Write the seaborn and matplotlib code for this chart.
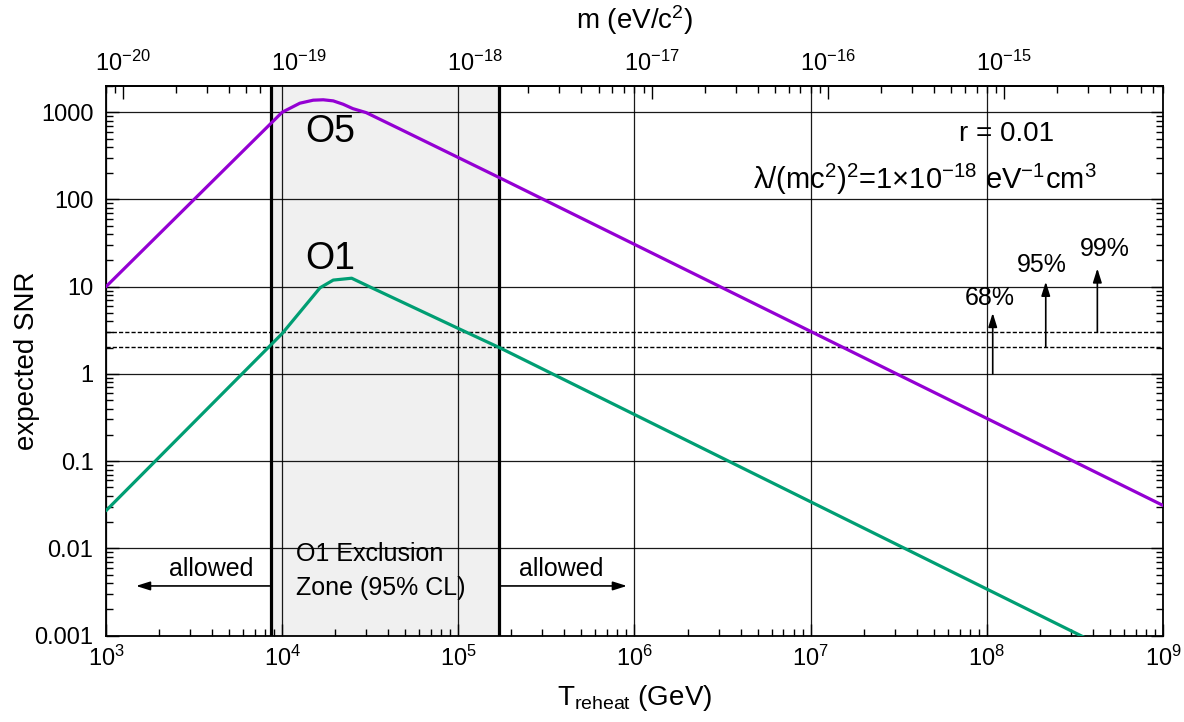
import numpy as np
import pandas as pd
import matplotlib
matplotlib.use("Agg")
import matplotlib.pyplot as plt
import seaborn as sns
from matplotlib.ticker import LogLocator, NullFormatter, FixedLocator

# ---------------- data ----------------
T_O5 = [1e3, 1e4, 1.26e4, 1.5e4, 1.71e4, 1.95e4, 2.22e4, 2.52e4, 3.0e4, 4.68e4, 1.69e5, 1e9]
SNR_O5 = [10, 1000, 1270, 1375, 1390, 1350, 1235, 1100, 990, 640, 180, 0.031]

T_O1 = [1e3, 1e4, 1.64e4, 1.95e4, 2.48e4, 3.16e4, 9.8e4, 1.72e5, 1e9]
SNR_O1 = [0.027, 2.9, 9.7, 11.9, 12.5, 9.9, 3.38, 1.99, 3.4e-4]

excl_zone = [8.6e3, 1.71e5]          # O1 exclusion zone (GeV)
thresholds = [2.05, 3.0]             # SNR thresholds for 95% and 99%
cl_labels = ["68%", "95%", "99%"]
cl_T = [1.08e8, 2.16e8, 4.24e8]
cl_base = [1.0, 2.05, 3.0]
cl_tip = [5.0, 11.4, 16.2]

ytick_vals = [1e-3, 1e-2, 1e-1, 1, 10, 100, 1000]
ytick_labels = ["0.001", "0.01", "0.1", "1", "10", "100", "1000"]
xtick_vals = [1e3, 1e4, 1e5, 1e6, 1e7, 1e8, 1e9]
mtick_vals = [1e-20, 1e-19, 1e-18, 1e-17, 1e-16, 1e-15]

M_PER_T = 8.0e-24   # m (eV/c^2) per GeV of T_reheat (top axis)

# ---------------- style ----------------
sns.set_style("ticks")
plt.rcParams["font.family"] = ["Liberation Sans", "DejaVu Sans"]
plt.rcParams["mathtext.fontset"] = "custom"
plt.rcParams["mathtext.rm"] = "Liberation Sans"
plt.rcParams["mathtext.it"] = "Liberation Sans:italic"
plt.rcParams["mathtext.bf"] = "Liberation Sans:bold"
plt.rcParams["axes.unicode_minus"] = True
for key in ["text.color", "axes.labelcolor", "xtick.color", "ytick.color",
            "xtick.labelcolor", "ytick.labelcolor", "axes.edgecolor"]:
    plt.rcParams[key] = "black"

PURPLE = "#9400D3"
GREEN = "#009E73"

fig, ax = plt.subplots(figsize=(11.84, 7.22), dpi=100)
fig.subplots_adjust(left=106 / 1184, right=1163 / 1184, bottom=1 - 635.5 / 722, top=1 - 86 / 722)

ax.set_xscale("log")
ax.set_yscale("log")
ax.set_xlim(1e3, 1e9)
ax.set_ylim(1e-3, 2000)

# exclusion zone
ax.axvspan(excl_zone[0], excl_zone[1], color="#f0f0f0", zorder=0.1, lw=0)
for xv in excl_zone:
    ax.axvline(xv, color="black", lw=2.3, zorder=2)

# grid
ax.set_axisbelow(True)
ax.grid(True, which="major", color="black", lw=0.9, alpha=0.9)

# threshold lines
for th in thresholds:
    ax.axhline(th, color="black", lw=1.0, ls=(0, (3, 1.5)), zorder=2)

# curves
df5 = pd.DataFrame({"T": T_O5, "SNR": SNR_O5})
df1 = pd.DataFrame({"T": T_O1, "SNR": SNR_O1})
sns.lineplot(data=df5, x="T", y="SNR", color=PURPLE, lw=2.3, ax=ax, sort=False, estimator=None, zorder=3)
sns.lineplot(data=df1, x="T", y="SNR", color=GREEN, lw=2.3, ax=ax, sort=False, estimator=None, zorder=3)

# ticks
ax.set_xticks(xtick_vals)
ax.xaxis.set_minor_locator(LogLocator(base=10, subs=np.arange(2, 10), numticks=50))
ax.xaxis.set_minor_formatter(NullFormatter())
ax.set_yticks(ytick_vals)
ax.set_yticklabels(ytick_labels)
ax.yaxis.set_minor_locator(LogLocator(base=10, subs=np.arange(2, 10), numticks=50))
ax.yaxis.set_minor_formatter(NullFormatter())
ax.tick_params(which="both", direction="in", top=False, right=True, labelright=False,
               labelsize=17, width=1, color="black")
ax.tick_params(which="major", length=9)
ax.tick_params(which="minor", length=5)
ax.tick_params(axis="y", pad=9)
ax.tick_params(axis="x", pad=7)
for sp in ax.spines.values():
    sp.set_linewidth(1.3)
    sp.set_color("black")

ax.set_xlabel(r"T$_{\mathregular{reheat}}$ (GeV)", fontsize=20, labelpad=9)
ax.set_ylabel("expected SNR", fontsize=20)
ax.yaxis.set_label_coords(-0.062, 0.5)

# top axis: mass
sec = ax.secondary_xaxis("top", functions=(lambda t: t * M_PER_T, lambda m: m / M_PER_T))
sec.xaxis.set_major_locator(FixedLocator(mtick_vals))
sec.xaxis.set_minor_locator(LogLocator(base=10, subs=np.arange(2, 10), numticks=50))
sec.xaxis.set_minor_formatter(NullFormatter())
sec.tick_params(which="both", direction="in", labelsize=17, width=1, color="black", pad=7)
sec.tick_params(which="major", length=9)
sec.tick_params(which="minor", length=5)
sec.spines["top"].set_linewidth(1.3)
sec.set_xlabel(r"m (eV/c$^2$)", fontsize=20, labelpad=16)

# annotations
ax.text(1.35e4, 586, "O5", fontsize=27, ha="left", va="center", zorder=4)
ax.text(1.35e4, 20.6, "O1", fontsize=27, ha="left", va="center", zorder=4)
ax.text(1.3e8, 562, "r = 0.01", fontsize=20, ha="center", va="center")
ax.text(4.45e7, 168, r"λ/(mc$^2$)$^2$=1×10$^{-18}$ eV$^{-1}$cm$^3$", fontsize=21,
        ha="center", va="center")

for lab, xt, yb, yt in zip(cl_labels, cl_T, cl_base, cl_tip):
    ax.annotate("", xy=(xt, yt), xytext=(xt, yb),
                arrowprops=dict(arrowstyle="-|>,head_length=0.7,head_width=0.22",
                                color="black", lw=1.2, shrinkA=0, shrinkB=0,
                                mutation_scale=12))
ax.text(1.04e8, 7.4, cl_labels[0], fontsize=18, ha="center", va="center")
ax.text(2.05e8, 17.8, cl_labels[1], fontsize=18, ha="center", va="center")
ax.text(4.68e8, 26.9, cl_labels[2], fontsize=18, ha="center", va="center")

# allowed arrows
ax.text(3.98e3, 0.0058, "allowed", fontsize=18, ha="center", va="center")
ax.annotate("", xy=(1.48e3, 0.0037), xytext=(8.5e3, 0.0037),
            arrowprops=dict(arrowstyle="-|>,head_length=0.7,head_width=0.22",
                            color="black", lw=1.2, shrinkA=0, shrinkB=0, mutation_scale=12))
ax.text(3.82e5, 0.0058, "allowed", fontsize=18, ha="center", va="center")
ax.annotate("", xy=(9.06e5, 0.0037), xytext=(1.72e5, 0.0037),
            arrowprops=dict(arrowstyle="-|>,head_length=0.7,head_width=0.22",
                            color="black", lw=1.2, shrinkA=0, shrinkB=0, mutation_scale=12))
ax.text(1.2e4, 0.0086, "O1 Exclusion", fontsize=18, ha="left", va="center", zorder=4)
ax.text(1.2e4, 0.00349, "Zone (95% CL)", fontsize=18, ha="left", va="center", zorder=4)

fig.savefig("out.png", dpi=100)
